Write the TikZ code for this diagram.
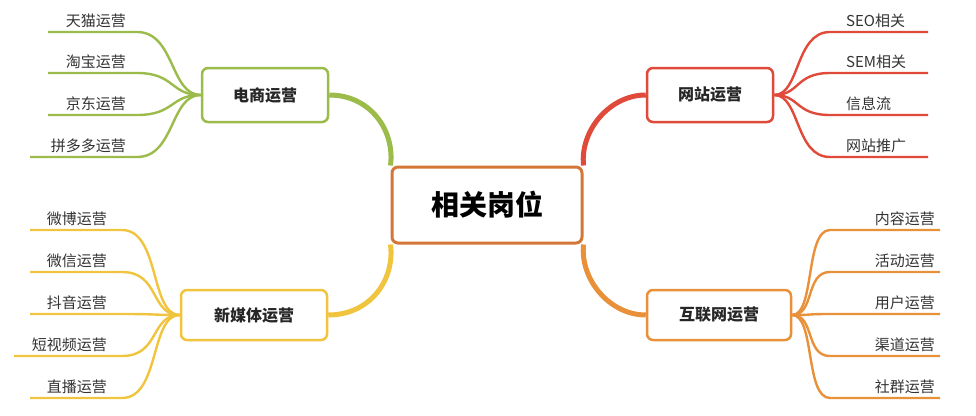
\documentclass[tikz,border=0pt]{standalone}
\usepackage{fontspec}
\setmainfont{Noto Sans CJK SC}
\usetikzlibrary{backgrounds}
\definecolor{cg}{HTML}{9BBB4A}
\definecolor{cr}{HTML}{E04A3A}
\definecolor{co}{HTML}{E8913A}
\definecolor{cy}{HTML}{F0C43E}
\definecolor{cc}{HTML}{D47638}
\begin{document}
\begin{tikzpicture}[x=1pt,y=-1pt,
  box/.style={draw=#1,line width=2.5pt,rounded corners=6pt,fill=white,font=\fontsize{16}{18}\selectfont\bfseries,text=black!85,inner sep=0pt},
  lf/.style={font=\fontsize{15}{17}\selectfont,text=black!80,inner sep=1pt},
  br/.style={draw=#1,line width=2.4pt},
  mb/.style={draw=#1,line width=5pt}]
\useasboundingbox (0,0) rectangle (976,415);
\node[box=cc,line width=3pt,minimum width=190pt,minimum height=76pt,font=\fontsize{28}{30}\selectfont\bfseries,text=black] (c) at (487,205) {相关岗位};
\node[box=cg,minimum width=126pt,minimum height=54pt] (e) at (265,95) {电商运营};
\node[box=cr,minimum width=126pt,minimum height=54pt] (w) at (710,95) {网站运营};
\node[box=cy,minimum width=146pt,minimum height=50pt] (n) at (254,315) {新媒体运营};
\node[box=co,minimum width=144pt,minimum height=50pt] (h) at (719,315) {互联网运营};
\begin{scope}[on background layer]
\draw[mb=cg] (e.east) .. controls (370,95) and (395,130) .. (c.north west);
\draw[mb=cr] (w.west) .. controls (610,95) and (580,130) .. (c.north east);
\draw[mb=cy] (n.east) .. controls (370,315) and (395,280) .. (c.south west);
\draw[mb=co] (h.west) .. controls (610,315) and (580,280) .. (c.south east);
\end{scope}
\foreach \t/\y/\xs [count=\i] in {天猫运营/32/48,淘宝运营/73/48,京东运营/115/48,拼多多运营/157/30}{
  \coordinate (el\i) at (137,\y);
  \coordinate (els\i) at (\xs,\y);
  \draw[br=cg] (els\i) -- (el\i) .. controls (175,\y) and (170,95) .. (e.west);
  \node[lf,anchor=south east] (elt\i) at (127,\y-3) {\t};
}
\foreach \t/\y [count=\i] in {SEO相关/32,SEM相关/73,信息流/115,网站推广/157}{
  \coordinate (wl\i) at (830,\y);
  \coordinate (wle\i) at (928,\y);
  \draw[br=cr] (w.east) .. controls (800,95) and (795,\y) .. (wl\i) -- (wle\i);
  \node[lf,anchor=south west] (wlt\i) at (845,\y-3) {\t};
}
\foreach \t/\y/\xs [count=\i] in {微博运营/230/30,微信运营/272/30,抖音运营/314/30,短视频运营/356/14,直播运营/398/30}{
  \coordinate (nl\i) at (122,\y);
  \coordinate (nls\i) at (\xs,\y);
  \draw[br=cy] (nls\i) -- (nl\i) .. controls (160,\y) and (150,315) .. (n.west);
  \node[lf,anchor=south east] (nlt\i) at (108,\y-3) {\t};
}
\foreach \t/\y [count=\i] in {内容运营/230,活动运营/272,用户运营/314,渠道运营/356,社群运营/398}{
  \coordinate (hl\i) at (830,\y);
  \coordinate (hle\i) at (940,\y);
  \draw[br=co] (h.east) .. controls (815,315) and (805,\y) .. (hl\i) -- (hle\i);
  \node[lf,anchor=south east] (hlt\i) at (936,\y-3) {\t};
}
\end{tikzpicture}
\end{document}
